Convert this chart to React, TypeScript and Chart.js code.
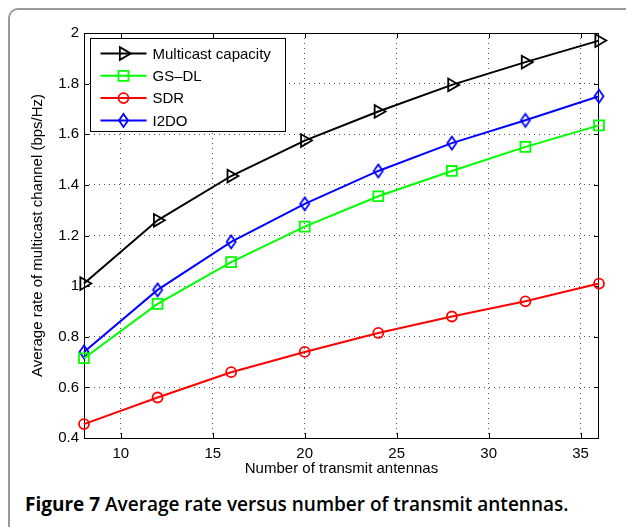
import React, { useEffect, useRef } from "react";
import { Chart, registerables } from "chart.js";

Chart.register(...registerables);

const antennas = [8, 12, 16, 20, 24, 28, 32, 36];
const multicastCapacity = [1.01, 1.26, 1.435, 1.575, 1.69, 1.795, 1.885, 1.97];
const gsdl = [0.715, 0.93, 1.095, 1.235, 1.355, 1.455, 1.55, 1.635];
const sdr = [0.455, 0.56, 0.66, 0.74, 0.815, 0.88, 0.94, 1.01];
const i2do = [0.74, 0.985, 1.175, 1.325, 1.455, 1.565, 1.655, 1.75];
const xTickValues = [10, 15, 20, 25, 30, 35];
const seriesNames = ["Multicast capacity", "GS\u2013DL", "SDR", "I2DO"];
const seriesColors = ["#000000", "#00ff00", "#ff0000", "#0000ff"];
const xTitle = "Number of transmit antennas";
const yTitle = "Average rate of multicast channel (bps/Hz)";

const FONT = "'Liberation Sans', Arial, Helvetica, sans-serif";
const FS = 15;

function makeDiamond(color: string) {
  const c = document.createElement("canvas");
  c.width = 14;
  c.height = 18;
  const ctx = c.getContext("2d")!;
  ctx.strokeStyle = color;
  ctx.lineWidth = 1.8;
  ctx.beginPath();
  ctx.moveTo(7, 2.5);
  ctx.lineTo(11.5, 9);
  ctx.lineTo(7, 15.5);
  ctx.lineTo(2.5, 9);
  ctx.closePath();
  ctx.stroke();
  return c;
}

function drawMarker(ctx: CanvasRenderingContext2D, kind: number, x: number, y: number, color: string) {
  ctx.save();
  ctx.strokeStyle = color;
  ctx.lineWidth = 1.8;
  ctx.beginPath();
  if (kind === 0) {
    const r = 7.3;
    ctx.moveTo(x + r, y);
    ctx.lineTo(x - r / 2, y - r * 0.866);
    ctx.lineTo(x - r / 2, y + r * 0.866);
    ctx.closePath();
  } else if (kind === 1) {
    ctx.rect(x - 5, y - 5, 10, 10);
  } else if (kind === 2) {
    ctx.arc(x, y, 5, 0, Math.PI * 2);
  } else {
    ctx.moveTo(x, y - 6.5);
    ctx.lineTo(x + 4.5, y);
    ctx.lineTo(x, y + 6.5);
    ctx.lineTo(x - 4.5, y);
    ctx.closePath();
  }
  ctx.stroke();
  ctx.restore();
}

const boxPlugin = {
  id: "matlabBox",
  beforeDatasetsDraw(chart: any) {
    const { ctx, chartArea } = chart;
    const { left, right, top, bottom } = chartArea;
    ctx.save();
    ctx.strokeStyle = "#000";
    ctx.lineWidth = 1;
    ctx.strokeRect(left + 0.5, top + 0.5, right - left - 1, bottom - top);
    const xs = chart.scales.x;
    const ys = chart.scales.y;
    ctx.beginPath();
    xs.ticks.forEach((t: any) => {
      const px = Math.round(xs.getPixelForValue(t.value)) + 0.5;
      ctx.moveTo(px, bottom);
      ctx.lineTo(px, bottom - 5);
      ctx.moveTo(px, top);
      ctx.lineTo(px, top + 5);
    });
    ys.ticks.forEach((t: any) => {
      const py = Math.round(ys.getPixelForValue(t.value)) + 0.5;
      ctx.moveTo(left, py);
      ctx.lineTo(left + 5, py);
      ctx.moveTo(right, py);
      ctx.lineTo(right - 5, py);
    });
    ctx.stroke();
    ctx.restore();
  },
  afterDraw(chart: any) {
    const { ctx, chartArea } = chart;
    const bx = chartArea.left + 6.5;
    const by = chartArea.top + 5.5;
    const bw = 195;
    const bh = 93;
    ctx.save();
    ctx.fillStyle = "#fff";
    ctx.fillRect(bx, by, bw, bh);
    ctx.strokeStyle = "#000";
    ctx.lineWidth = 1;
    ctx.strokeRect(bx, by, bw, bh);
    ctx.font = FS + "px " + FONT;
    ctx.textBaseline = "middle";
    ctx.fillStyle = "#000";
    seriesNames.forEach((name, i) => {
      const cy = by + 15 + i * 22.3;
      ctx.strokeStyle = seriesColors[i];
      ctx.lineWidth = 2;
      ctx.beginPath();
      ctx.moveTo(bx + 10, cy);
      ctx.lineTo(bx + 56, cy);
      ctx.stroke();
      drawMarker(ctx, i, bx + 33, cy, seriesColors[i]);
      ctx.fillStyle = "#000";
      ctx.fillText(name, bx + 62, cy + 1);
    });
    ctx.restore();
  },
};

export default function App() {
  const ref = useRef<HTMLCanvasElement | null>(null);
  useEffect(() => {
    if (!ref.current) return;
    const diamond = makeDiamond("#0000ff");
    const series = [multicastCapacity, gsdl, sdr, i2do];
    const styles: any[] = ["triangle", "rect", "circle", diamond];
    const radii = [7.3, 7, 5, 7];
    const chart = new Chart(ref.current, {
      type: "line",
      data: {
        datasets: series.map((vals, i) => ({
          label: seriesNames[i],
          data: antennas.map((x, j) => ({ x, y: vals[j] })),
          borderColor: seriesColors[i],
          backgroundColor: "rgba(0,0,0,0)",
          borderWidth: 2,
          pointStyle: styles[i],
          pointRadius: radii[i],
          pointRotation: i === 0 ? 90 : 0,
          pointBorderColor: seriesColors[i],
          pointBackgroundColor: "rgba(0,0,0,0)",
          pointBorderWidth: 1.8,
          tension: 0,
          clip: false as any,
        })),
      },
      options: {
        animation: false,
        responsive: false,
        devicePixelRatio: 1,
        layout: { padding: { top: 33, right: 27, left: 0, bottom: 0 } },
        plugins: { legend: { display: false }, tooltip: { enabled: false } },
        scales: {
          x: {
            type: "linear",
            min: 8,
            max: 36,
            afterBuildTicks: (s: any) => {
              s.ticks = xTickValues.map((v) => ({ value: v }));
            },
            afterFit: (s: any) => {
              s.height = 42;
            },
            grid: {
              color: "rgba(0,0,0,0.7)",
              lineWidth: 1,
              drawTicks: false,
            },
            border: { display: false, dash: [1, 4] },
            ticks: {
              padding: 7,
              color: "#000",
              font: { family: FONT, size: FS },
              maxRotation: 0,
            },
            title: {
              display: true,
              text: xTitle,
              color: "#000",
              font: { family: FONT, size: FS },
              padding: { top: 2, bottom: 2 },
            },
          },
          y: {
            type: "linear",
            min: 0.4,
            max: 2,
            afterFit: (s: any) => {
              s.width = 84;
            },
            grid: {
              color: "rgba(0,0,0,0.7)",
              lineWidth: 1,
              drawTicks: false,
            },
            border: { display: false, dash: [1, 4] },
            ticks: {
              stepSize: 0.2,
              padding: 5,
              color: "#000",
              font: { family: FONT, size: FS },
              callback: (v: any) => String(Math.round(Number(v) * 10) / 10),
            },
            title: {
              display: true,
              text: yTitle,
              color: "#000",
              font: { family: FONT, size: FS },
              padding: { top: 29, bottom: 29 },
            },
          },
        },
      },
      plugins: [boxPlugin],
    });
    return () => chart.destroy();
  }, []);

  return (
    <div
      style={{
        position: "fixed",
        left: 0,
        top: 0,
        width: 626,
        height: 527,
        overflow: "hidden",
        background: "#fff",
      }}
    >
      <div
        style={{
          position: "absolute",
          left: 8,
          top: 8,
          width: 700,
          height: 600,
          borderLeft: "2px solid #9a9a9a",
          borderTop: "2px solid #9a9a9a",
          borderTopLeftRadius: 10,
          boxSizing: "border-box",
        }}
      />
      <canvas
        ref={ref}
        width={626}
        height={480}
        style={{ position: "absolute", left: 0, top: 0, width: 626, height: 480 }}
      />
      <div
        style={{
          position: "absolute",
          left: 25,
          top: 494,
          fontFamily: "'Open Sans', sans-serif",
          fontSize: 19,
          lineHeight: "20px",
          fontWeight: 600,
          color: "#000",
          whiteSpace: "nowrap",
        }}
      >
        <span style={{ fontWeight: 700 }}>Figure 7</span> Average rate versus number of transmit antennas.
      </div>
    </div>
  );
}
